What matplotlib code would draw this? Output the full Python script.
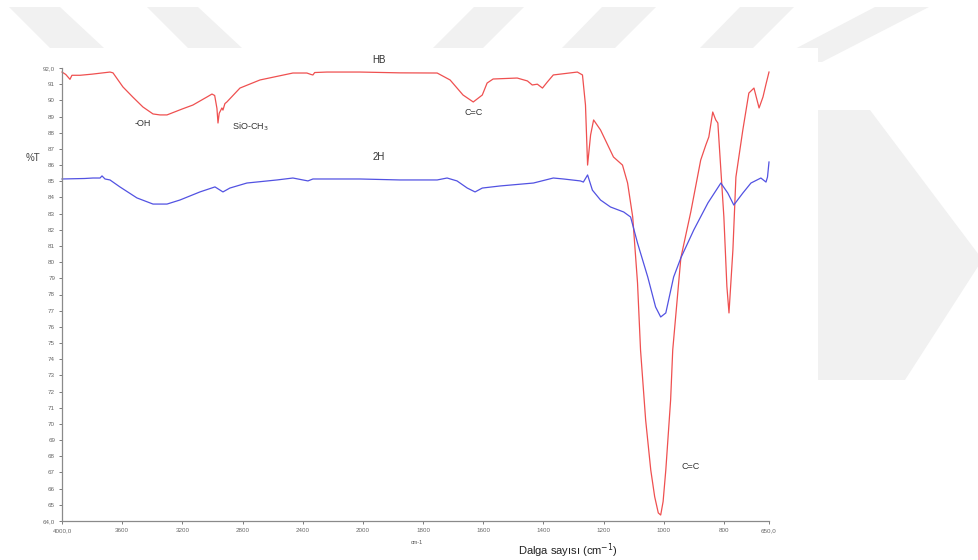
import numpy as np
import matplotlib
matplotlib.use("Agg")
import matplotlib.pyplot as plt
from matplotlib.patches import Polygon, Rectangle

plt.rcParams['font.family'] = ['Liberation Sans', 'DejaVu Sans']

# FTIR spectrum of HB (wavenumber in cm-1, transmittance in %T)
hb_cm = [4000, 3975, 3947, 3934, 3880, 3800, 3681, 3661, 3595, 3530, 3462, 3395,
         3349, 3302, 3200, 3130, 3036, 3003, 2985, 2970, 2963, 2955, 2937, 2930,
         2917, 2904, 2817, 2684, 2465, 2372, 2345, 2332, 2320, 2239, 2020, 1877,
         1753, 1710, 1667, 1633, 1603, 1587, 1567, 1487, 1453, 1437, 1420, 1403,
         1387, 1367, 1287, 1270, 1260, 1253, 1243, 1233, 1210, 1167, 1137, 1120,
         1103, 1087, 1077, 1060, 1043, 1030, 1018, 1010, 1002, 993, 977, 970,
         943, 910, 877, 860, 850, 837, 827, 820, 800, 790, 783, 770, 760, 737,
         717, 700, 683, 670, 660, 650]
hb_T = [91.75, 91.60, 91.30, 91.55, 91.55, 91.62, 91.75, 91.70, 90.83, 90.21, 89.59, 89.16,
        89.10, 89.10, 89.47, 89.71, 90.21, 90.39, 90.30, 89.50, 88.60, 89.20, 89.53, 89.40,
        89.80, 89.90, 90.76, 91.26, 91.69, 91.69, 91.60, 91.57, 91.72, 91.75, 91.75, 91.70,
        91.69, 91.26, 90.33, 89.90, 90.33, 91.07, 91.32, 91.38, 91.20, 90.95, 91.00, 90.76,
        91.13, 91.57, 91.75, 91.57, 89.71, 86.00, 87.86, 88.79, 88.17, 86.50, 86.00, 84.89,
        82.79, 78.71, 74.57, 70.24, 67.15, 65.50, 64.50, 64.37, 65.20, 67.15, 71.48, 74.57,
        80.26, 83.10, 86.31, 87.24, 87.74, 89.28, 88.79, 88.60, 82.79, 78.50, 76.86, 80.75,
        85.26, 88.17, 90.45, 90.76, 89.53, 90.21, 91.00, 91.75]

# FTIR spectrum of 2H
h2_cm = [4000, 3850, 3794, 3747, 3734, 3714, 3681, 3615, 3502, 3395, 3302, 3216,
         3083, 2983, 2930, 2884, 2771, 2571, 2465, 2365, 2332, 2020, 1877, 1753,
         1720, 1687, 1653, 1627, 1603, 1543, 1433, 1367, 1333, 1277, 1267, 1253,
         1237, 1210, 1177, 1133, 1110, 1087, 1053, 1027, 1010, 993, 967, 943,
         900, 853, 810, 787, 767, 737, 710, 677, 660, 655, 650]
h2_T = [85.14, 85.17, 85.20, 85.20, 85.33, 85.14, 85.08, 84.65, 83.97, 83.59, 83.59, 83.84,
        84.34, 84.65, 84.34, 84.58, 84.89, 85.08, 85.20, 85.02, 85.14, 85.14, 85.08, 85.08,
        85.20, 85.02, 84.58, 84.34, 84.58, 84.71, 84.89, 85.20, 85.14, 85.02, 84.95, 85.39,
        84.45, 83.84, 83.41, 83.10, 82.79, 81.18, 79.08, 77.23, 76.61, 76.86, 79.08, 80.26,
        81.99, 83.66, 84.89, 84.27, 83.53, 84.27, 84.89, 85.20, 84.95, 85.26, 86.19]

x_ticks = [4000, 3600, 3200, 2800, 2400, 2000, 1800, 1600, 1400, 1200, 1000, 800, 650]
x_labels = ["4000,0", "3600", "3200", "2800", "2400", "2000", "1800", "1600",
            "1400", "1200", "1000", "800", "650,0"]
y_ticks = list(range(64, 93))
y_labels = ["64,0"] + [str(v) for v in range(65, 92)] + ["92,0"]


# Wavenumber axis: 4000-2000 is drawn at half the scale of 2000-650
def fwd(w):
    w = np.asarray(w, dtype=float)
    return np.where(w <= 2000, 2 * w, w + 2000)


def inv(u):
    u = np.asarray(u, dtype=float)
    return np.where(u <= 4000, u / 2, u - 2000)


W, H = 979, 560
fig = plt.figure(figsize=(W / 100, H / 100), dpi=100)


def px(points):
    return [(x / W, 1 - y / H) for x, y in points]


# faint background stripes around the chart panel
stripes = [
    [(9, 7), (60, 7), (104, 48), (50, 48)],
    [(147, 7), (198, 7), (242, 48), (188, 48)],
    [(474, 7), (524, 7), (483, 48), (433, 48)],
    [(602, 7), (656, 7), (615, 48), (562, 48)],
    [(740, 7), (794, 7), (753, 48), (700, 48)],
    [(875, 7), (929, 7), (822, 62), (770, 62)],
    [(818, 110), (870, 110), (979, 255), (979, 265), (905, 380), (818, 380)],
]
for s in stripes:
    fig.add_artist(Polygon(px(s), closed=True, transform=fig.transFigure,
                           facecolor="#f1f1f1", edgecolor="none", zorder=-3))
fig.add_artist(Rectangle((18 / W, 0), (818 - 18) / W, (H - 48) / H,
                         transform=fig.transFigure, facecolor="white",
                         edgecolor="none", zorder=-2))

ax = fig.add_axes([62 / W, 1 - 521 / H, (769 - 62) / W, (521 - 68) / H])
ax.set_xscale('function', functions=(fwd, inv))
ax.set_xlim(4000, 650)
ax.set_ylim(64, 92)

ax.plot(hb_cm, hb_T, color="#ef5050", lw=0.9, clip_on=False)
ax.plot(h2_cm, h2_T, color="#5252e2", lw=0.9, clip_on=False)

ax.set_xticks(x_ticks)
ax.set_xticklabels(x_labels)
ax.set_yticks(y_ticks)
ax.set_yticklabels(y_labels)
ax.minorticks_off()
ax.tick_params(axis="both", labelsize=4.5, colors="#666666", length=2,
               width=0.6, pad=3)
for side in ("top", "right"):
    ax.spines[side].set_visible(False)
for side in ("left", "bottom"):
    ax.spines[side].set_color("#8a8a8a")
    ax.spines[side].set_linewidth(0.9)

txt = dict(color="#333333", clip_on=False)
ax.text(1947, 92.5, "HB", fontsize=7, ha="center", va="center", **txt)
ax.text(1947, 86.5, "2H", fontsize=7, ha="center", va="center", **txt)
ax.text(3462, 88.54, "-OH", fontsize=6.5, ha="center", va="center", **txt)
ax.text(2751, 88.35, "SiO-CH$_3$", fontsize=6.5, ha="center", va="center", **txt)
ax.text(1633, 89.28, "C=C", fontsize=6.5, ha="center", va="center", **txt)
ax.text(910, 67.34, "C=C", fontsize=6.5, ha="center", va="center", **txt)

fig.text(33 / W, 1 - 158 / H, "%T", fontsize=7, color="#444444",
         ha="center", va="center")
fig.text(417 / W, 1 - 543 / H, "cm-1", fontsize=4, color="#555555",
         ha="center", va="center")
fig.text(568 / W, 1 - 551 / H, "Dalga sayısı (cm$^{-1}$)", fontsize=8,
         color="#222222", ha="center", va="center")

fig.savefig("out.png", dpi=100, facecolor="white")
